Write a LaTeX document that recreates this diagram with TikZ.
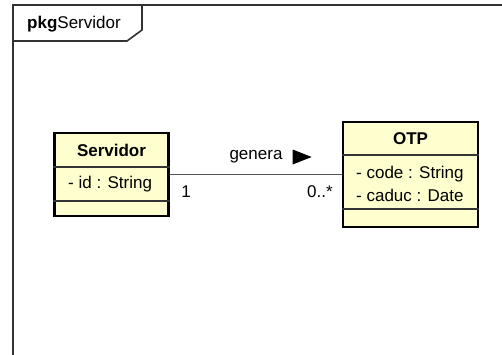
\documentclass[tikz,border=0pt]{standalone}
\usepackage{fontspec}
\setmainfont{Liberation Sans}
\definecolor{classfill}{HTML}{FEFECE}
\definecolor{frameink}{HTML}{333333}
\definecolor{linkink}{HTML}{555555}
\begin{document}
\begin{tikzpicture}[x=1pt,y=-1pt,
  every node/.style={font=\fontsize{17}{20}\selectfont, inner sep=0pt},
  frameline/.style={draw=frameink, line width=1.6pt},
  classbox/.style={draw=black, line width=2.4pt, fill=classfill},
  divider/.style={draw=frameink, line width=1.3pt},
  assoc/.style={draw=linkink, line width=1.4pt},
  classname/.style={font=\fontsize{17}{20}\selectfont\bfseries},
  attr/.style={anchor=west}
]
\useasboundingbox (0,0) rectangle (502,354);

% package frame with its name tab
\draw[frameline] (13,355) -- (13,5) -- (503,5);
\draw[frameline] (13,41) -- (127,41) -- (142,30) -- (142,5);
\node[anchor=base west] (pkg) at (27,28) {\textbf{pkg}Servidor};

% class Servidor
\node[classbox, minimum width=114pt, minimum height=83pt] (srv) at (111.5,174.5) {};
\draw[divider] (srv.west |- 0,167) -- (srv.east |- 0,167);
\draw[divider] (srv.west |- 0,201) -- (srv.east |- 0,201);
\node[classname] (srvname) at (111.5,150) {Servidor};
\node[attr] (srvid) at (68,184) {- id : String};

% class OTP
\node[classbox, minimum width=135pt, minimum height=105pt] (otp) at (410.5,174.5) {};
\draw[divider] (otp.west |- 0,155) -- (otp.east |- 0,155);
\draw[divider] (otp.west |- 0,209) -- (otp.east |- 0,209);
\node[classname] (otpname) at (410.5,139) {OTP};
\node[attr] (otpcode) at (356,174) {- code : String};
\node[attr] (otpcaduc) at (356,195) {- caduc : Date};

% association
\draw[assoc] (srv.east) -- (otp.west);
\node (verb) at (256,157) {genera};
\fill[black] ([xshift=10pt,yshift=-7.5pt]verb.east) -- ([xshift=29pt]verb.east) -- ([xshift=10pt,yshift=7.5pt]verb.east) -- cycle;
\node (mult1) at (186,192) {1};
\node (mult2) at (320,192) {0..*};
\end{tikzpicture}
\end{document}
